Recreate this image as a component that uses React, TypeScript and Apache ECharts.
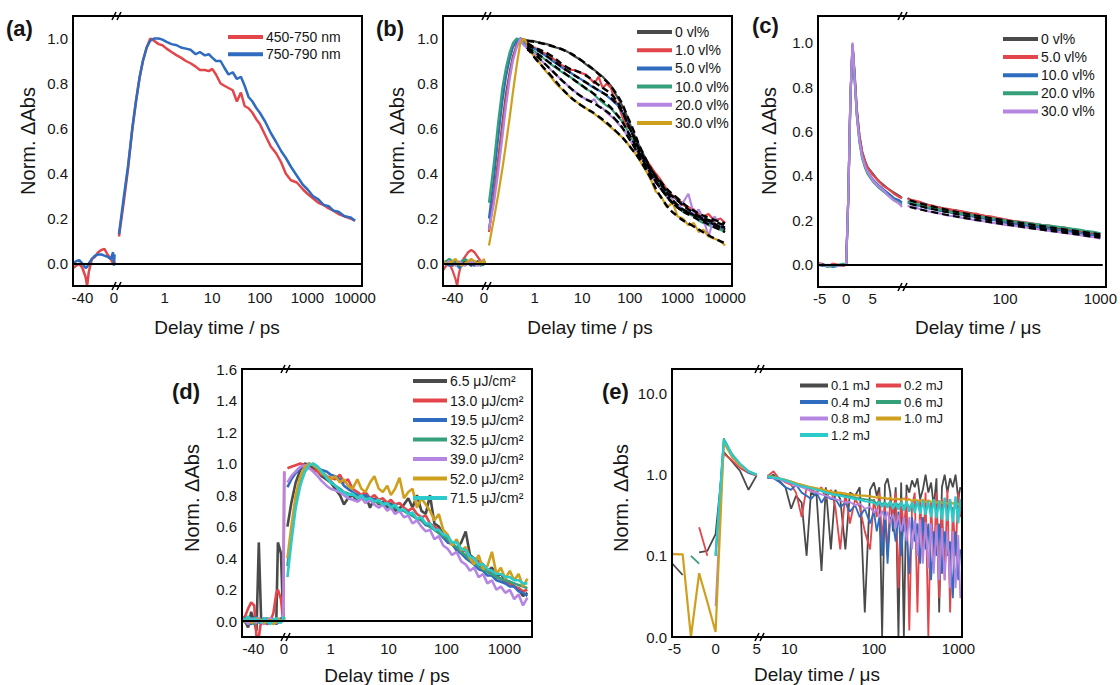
import React, { useEffect, useRef } from "react";
import * as echarts from "echarts";

const FONT = 'Arial, "Liberation Sans", Helvetica, sans-serif';
const INK = "#161616";
const GRAY = "#4a4a4a", RED = "#e2464b", BLUE = "#2f6bbf", GREEN = "#35a07a", PURPLE = "#b585e2", GOLD = "#cf9f1e", CYAN = "#2ccaca";

// ---------- tick labels ----------
const psLinTicks = [-40, 0];
const abLogTicks = [1, 10, 100, 1000, 10000];
const usLinTicks = [-5, 0, 5];
const cLogTicks = [100, 1000];
const dLogTicks = [1, 10, 100, 1000];
const eLogTicks = [10, 100, 1000];
const yTicks11 = [0, 0.2, 0.4, 0.6, 0.8, 1.0];
const yTicksD = [0, 0.2, 0.4, 0.6, 0.8, 1.0, 1.2, 1.4, 1.6];
const yTicksE = [0.01, 0.1, 1, 10];

// ---------- (a) ----------
const aNames = ["450-750 nm", "750-790 nm"];
const aColors = [RED, BLUE];
const tNegAB = [-52, -48, -44, -40, -36, -34, -32, -28, -24, -20, -16, -12, -8, -4, -1, 0, 1];
const tPosAB = [0.11, 0.14, 0.17, 0.21, 0.25, 0.3, 0.35, 0.42, 0.5, 0.6, 0.75, 0.9, 1.1, 1.4, 1.8, 2.2, 2.8, 3.5, 4.5, 5.5, 7, 8.5, 10, 12, 15, 18, 22, 27, 33, 40, 48, 58, 70, 85, 100, 130, 170, 220, 280, 350, 450, 600, 800, 1000, 1300, 1700, 2200, 2800, 3500, 4500, 6000, 8000, 10000];
const aRedNeg = [-0.02, -0.01, 0.0, -0.02, -0.06, -0.1, -0.04, 0.02, 0.03, 0.05, 0.06, 0.065, 0.04, 0.02, 0.0, 0.01, 0.0];
const aBlueNeg = [0.0, 0.01, 0.015, 0.0, -0.02, -0.015, 0.0, 0.02, 0.035, 0.04, 0.04, 0.035, 0.03, 0.02, 0.05, -0.01, 0.04];
const aRedPos = [0.12, 0.28, 0.42, 0.6, 0.72, 0.83, 0.9, 0.96, 1.0,
  0.99, 0.975, 0.97, 0.955, 0.94, 0.925, 0.915, 0.9, 0.89, 0.875,
  0.86, 0.86, 0.855, 0.865, 0.84, 0.8, 0.79, 0.78, 0.77, 0.72,
  0.76, 0.7, 0.69, 0.67, 0.64, 0.62, 0.57, 0.52, 0.49, 0.45,
  0.4, 0.37, 0.36, 0.33, 0.31, 0.29, 0.27, 0.26, 0.245, 0.235,
  0.22, 0.21, 0.2, 0.19];
const aBluePos = [0.13, 0.3, 0.43, 0.6, 0.72, 0.83, 0.9, 0.96, 0.99,
  1.0, 1.0, 0.995, 0.985, 0.975, 0.97, 0.96, 0.955, 0.95, 0.93,
  0.94, 0.925, 0.93, 0.915, 0.9, 0.9, 0.87, 0.84, 0.85, 0.82,
  0.83, 0.79, 0.74, 0.72, 0.69, 0.67, 0.63, 0.58, 0.54, 0.5,
  0.47, 0.43, 0.39, 0.35, 0.33, 0.3, 0.285, 0.26, 0.255, 0.235,
  0.23, 0.21, 0.205, 0.19];

// ---------- (b) ----------
const bNames = ["0 vl%", "1.0 vl%", "5.0 vl%", "10.0 vl%", "20.0 vl%", "30.0 vl%"];
const bColors = [GRAY, RED, BLUE, GREEN, PURPLE, GOLD];
const bGrayNeg = [0.0, 0.01, 0.0, -0.01, 0.0, 0.01, -0.01, 0.0, 0.01, 0.0, -0.01, 0.0, 0.01, 0.0, 0.0, 0.01, 0.0];
const bRedNeg = [-0.03, -0.01, 0.0, -0.03, -0.07, -0.1, -0.05, 0.01, 0.03, 0.05, 0.06, 0.05, 0.03, 0.01, 0.0, 0.02, 0.0];
const bBlueNeg = [0.01, 0.0, -0.01, 0.0, 0.01, 0.0, -0.02, -0.01, 0.0, 0.01, 0.0, -0.01, 0.0, 0.01, -0.01, 0.0, 0.01];
const bGreenNeg = [0.0, 0.01, 0.02, 0.01, 0.0, -0.01, 0.0, 0.01, 0.02, 0.01, 0.0, 0.01, 0.0, -0.01, 0.0, 0.01, 0.0];
const bPurpleNeg = [0.0, 0.0, 0.01, 0.0, -0.01, 0.0, 0.01, 0.0, -0.01, 0.0, 0.01, 0.0, -0.01, 0.0, 0.01, 0.0, 0.0];
const bGoldNeg = [0.01, 0.0, 0.0, 0.01, 0.02, 0.01, 0.0, -0.01, 0.0, 0.01, 0.02, 0.01, 0.0, 0.01, 0.0, 0.02, 0.0];
const bGrayPos = [0.15, 0.3, 0.45, 0.62, 0.75, 0.85, 0.92, 0.97, 1.0,
  0.995, 0.99, 0.99, 0.985, 0.98, 0.975, 0.97, 0.96, 0.955, 0.945,
  0.935, 0.92, 0.91, 0.9, 0.885, 0.87, 0.86, 0.845, 0.83, 0.81,
  0.79, 0.76, 0.73, 0.7, 0.66, 0.62, 0.56, 0.51, 0.46, 0.42,
  0.39, 0.36, 0.32, 0.3, 0.28, 0.27, 0.24, 0.24, 0.2, 0.21,
  0.18, 0.18, 0.15, 0.16];
const bRedPos = [0.14, 0.3, 0.44, 0.6, 0.73, 0.84, 0.91, 0.97, 1.0,
  0.99, 0.975, 0.965, 0.955, 0.94, 0.93, 0.92, 0.9, 0.885, 0.87,
  0.86, 0.86, 0.85, 0.845, 0.84, 0.82, 0.8, 0.83, 0.78, 0.8,
  0.78, 0.73, 0.7, 0.65, 0.61, 0.6, 0.55, 0.49, 0.46, 0.43,
  0.4, 0.37, 0.33, 0.3, 0.29, 0.26, 0.25, 0.24, 0.22, 0.21,
  0.22, 0.19, 0.2, 0.18];
const bBluePos = [0.2, 0.38, 0.55, 0.72, 0.83, 0.91, 0.96, 0.99, 1.0,
  0.98, 0.97, 0.96, 0.95, 0.935, 0.92, 0.905, 0.89, 0.875, 0.86,
  0.85, 0.835, 0.825, 0.815, 0.805, 0.79, 0.78, 0.77, 0.76, 0.745,
  0.73, 0.715, 0.7, 0.67, 0.64, 0.6, 0.55, 0.5, 0.45, 0.41,
  0.38, 0.35, 0.31, 0.28, 0.26, 0.24, 0.23, 0.22, 0.2, 0.19,
  0.18, 0.17, 0.16, 0.16];
const bGreenPos = [0.27, 0.45, 0.62, 0.78, 0.87, 0.94, 0.98, 1.0, 0.99,
  0.97, 0.96, 0.95, 0.935, 0.92, 0.9, 0.885, 0.87, 0.855, 0.84,
  0.83, 0.815, 0.8, 0.79, 0.775, 0.765, 0.75, 0.73, 0.715, 0.7,
  0.69, 0.67, 0.65, 0.63, 0.6, 0.57, 0.53, 0.48, 0.44, 0.4,
  0.37, 0.34, 0.3, 0.27, 0.25, 0.23, 0.22, 0.21, 0.19, 0.18,
  0.17, 0.16, 0.15, 0.14];
const bPurplePos = [0.15, 0.27, 0.4, 0.56, 0.7, 0.82, 0.9, 0.96, 1.0,
  0.97, 0.95, 0.94, 0.925, 0.9, 0.88, 0.86, 0.84, 0.82, 0.8,
  0.78, 0.765, 0.75, 0.74, 0.73, 0.72, 0.73, 0.7, 0.69, 0.67,
  0.655, 0.64, 0.62, 0.6, 0.575, 0.55, 0.51, 0.47, 0.43, 0.39,
  0.36, 0.33, 0.3, 0.28, 0.25, 0.27, 0.31, 0.22, 0.24, 0.2,
  0.12, 0.21, 0.17, 0.18];
const bGoldPos = [0.08, 0.2, 0.3, 0.42, 0.53, 0.65, 0.76, 0.88, 0.98,
  1.0, 0.96, 0.93, 0.91, 0.88, 0.85, 0.83, 0.8, 0.78, 0.76,
  0.74, 0.725, 0.71, 0.7, 0.69, 0.675, 0.665, 0.65, 0.635, 0.62,
  0.605, 0.59, 0.575, 0.56, 0.54, 0.52, 0.49, 0.45, 0.41, 0.37,
  0.32, 0.3, 0.25, 0.27, 0.21, 0.2, 0.17, 0.18, 0.14, 0.15,
  0.12, 0.11, 0.1, 0.08];
const tFitB = [0.7, 1, 2, 5, 10, 20, 50, 100, 200, 500, 1000, 2000, 5000, 10000];
const bFit0 = [0.99, 0.985, 0.97, 0.94, 0.9, 0.85, 0.76, 0.63, 0.48, 0.34, 0.28, 0.23, 0.185, 0.15];
const bFit1 = [0.98, 0.96, 0.93, 0.87, 0.845, 0.8, 0.73, 0.6, 0.47, 0.35, 0.29, 0.24, 0.2, 0.18];
const bFit2 = [0.97, 0.955, 0.915, 0.855, 0.815, 0.775, 0.715, 0.6, 0.46, 0.34, 0.26, 0.22, 0.18, 0.16];
const bFit3 = [0.96, 0.94, 0.895, 0.835, 0.79, 0.745, 0.67, 0.57, 0.45, 0.32, 0.25, 0.21, 0.17, 0.14];
const bFit4 = [0.95, 0.93, 0.87, 0.79, 0.74, 0.705, 0.64, 0.55, 0.44, 0.32, 0.25, 0.22, 0.19, 0.17];
const bFit5 = [0.96, 0.915, 0.845, 0.75, 0.7, 0.66, 0.59, 0.52, 0.43, 0.28, 0.21, 0.17, 0.12, 0.09];

// ---------- (c) ----------
const cNames = ["0 vl%", "5.0 vl%", "10.0 vl%", "20.0 vl%", "30.0 vl%"];
const cColors = [GRAY, RED, BLUE, GREEN, PURPLE];
const tNegC = [-5.3, -4.5, -3.5, -2.5, -1.5, -0.5, 0, 0.4, 0.8, 1.2, 1.6, 2, 2.5, 3, 3.5, 4, 5, 6, 7, 8, 9, 10, 10.5];
const cGrayNeg = [0.0, 0.005, -0.005, 0.0, -0.003, 0.0, 0.0, 0.3, 0.75, 0.99, 0.86, 0.7, 0.58, 0.51, 0.47, 0.44, 0.41, 0.38, 0.36, 0.34, 0.325, 0.31, 0.3];
const cRedNeg = [0.01, 0.0, -0.005, 0.005, 0.0, -0.005, 0.0, 0.3, 0.75, 0.99, 0.85, 0.7, 0.58, 0.51, 0.47, 0.44, 0.405, 0.38, 0.355, 0.34, 0.32, 0.305, 0.3];
const cBlueNeg = [0.0, -0.005, 0.0, -0.01, -0.005, 0.0, 0.0, 0.3, 0.75, 0.99, 0.84, 0.68, 0.56, 0.49, 0.45, 0.42, 0.385, 0.36, 0.34, 0.32, 0.3, 0.29, 0.28];
const cGreenNeg = [0.0, 0.0, -0.01, -0.005, 0.0, 0.005, 0.0, 0.3, 0.75, 0.99, 0.83, 0.67, 0.55, 0.48, 0.44, 0.41, 0.375, 0.35, 0.33, 0.31, 0.29, 0.28, 0.27];
const cPurpleNeg = [0.005, 0.0, -0.005, 0.0, -0.005, 0.0, 0.0, 0.3, 0.76, 1.0, 0.84, 0.68, 0.56, 0.49, 0.45, 0.42, 0.38, 0.355, 0.335, 0.31, 0.29, 0.275, 0.26];
const tPosC = [9.5, 11, 13, 15, 18, 21, 25, 30, 35, 42, 50, 60, 70, 85, 100, 120, 140, 170, 200, 240, 290, 350, 420, 500, 600, 700, 850, 1000];
const cGrayPos = [0.3, 0.285, 0.28, 0.272, 0.26, 0.258, 0.248, 0.246, 0.238, 0.234, 0.226, 0.222, 0.212, 0.209, 0.2, 0.197, 0.19, 0.186, 0.182, 0.175, 0.171, 0.166, 0.16, 0.156, 0.15, 0.146, 0.14, 0.135];
const cRedPos = [0.295, 0.29, 0.282, 0.27, 0.265, 0.255, 0.252, 0.244, 0.242, 0.232, 0.23, 0.22, 0.218, 0.21, 0.205, 0.198, 0.195, 0.19, 0.185, 0.18, 0.176, 0.17, 0.168, 0.16, 0.155, 0.15, 0.145, 0.14];
const cBluePos = [0.28, 0.27, 0.265, 0.255, 0.25, 0.242, 0.238, 0.23, 0.226, 0.22, 0.214, 0.208, 0.204, 0.198, 0.19, 0.186, 0.181, 0.176, 0.172, 0.166, 0.162, 0.157, 0.152, 0.148, 0.142, 0.138, 0.133, 0.128];
const cGreenPos = [0.285, 0.278, 0.268, 0.26, 0.254, 0.248, 0.24, 0.236, 0.23, 0.226, 0.22, 0.215, 0.21, 0.206, 0.2, 0.196, 0.192, 0.188, 0.184, 0.18, 0.176, 0.172, 0.168, 0.163, 0.158, 0.153, 0.148, 0.142];
const cPurplePos = [0.265, 0.26, 0.25, 0.242, 0.236, 0.23, 0.222, 0.218, 0.212, 0.206, 0.2, 0.196, 0.19, 0.186, 0.18, 0.176, 0.172, 0.167, 0.163, 0.158, 0.153, 0.148, 0.144, 0.139, 0.134, 0.129, 0.124, 0.118];
const tFitC = [10, 20, 50, 100, 200, 500, 1000];
const cFit0 = [0.29, 0.256, 0.222, 0.2, 0.18, 0.155, 0.137];
const cFit1 = [0.275, 0.245, 0.212, 0.19, 0.17, 0.146, 0.128];
const cFit2 = [0.26, 0.232, 0.202, 0.182, 0.163, 0.14, 0.122];

// ---------- (d) ----------
const dNames = ["6.5 μJ/cm²", "13.0 μJ/cm²", "19.5 μJ/cm²", "32.5 μJ/cm²", "39.0 μJ/cm²", "52.0 μJ/cm²", "71.5 μJ/cm²"];
const dColors = [GRAY, RED, BLUE, GREEN, PURPLE, GOLD, CYAN];
const tNegD = [-55, -51, -47, -43, -39, -36, -33, -30, -26, -22, -18, -14, -10, -8, -4, -1, 0.3];
const dGrayNeg = [0.03, 0.0, -0.04, 0.06, 0.0, -0.06, 0.5, 0.02, -0.02, 0.01, 0.0, -0.01, 0.02, 0.5, 0.43, 0.0, 0.02];
const dRedNeg = [0.0, 0.03, 0.08, 0.12, 0.1, -0.1, -0.1, 0.0, 0.01, -0.02, 0.0, 0.05, 0.18, 0.2, 0.14, 0.0, 0.95];
const dBlueNeg = [0.0, 0.02, 0.0, -0.02, 0.01, 0.03, -0.01, 0.0, 0.02, -0.01, 0.0, 0.01, -0.02, 0.0, 0.02, 0.0, 0.02];
const dGreenNeg = [0.02, -0.01, 0.03, 0.0, -0.02, 0.02, 0.0, -0.01, 0.01, 0.02, -0.01, 0.0, 0.01, -0.01, 0.0, 0.01, 0.03];
const dPurpleNeg = [0.0, 0.01, -0.02, 0.02, 0.0, -0.01, 0.02, 0.0, -0.02, 0.01, 0.02, 0.0, -0.01, 0.01, 0.0, 0.0, 0.95];
const dGoldNeg = [0.01, 0.0, 0.02, -0.01, 0.0, 0.02, 0.0, 0.01, -0.01, 0.0, 0.01, -0.02, 0.0, 0.02, 0.0, 0.01, 0.02];
const dCyanNeg = [0.02, 0.01, 0.03, 0.0, 0.02, 0.0, 0.01, -0.01, 0.02, 0.0, -0.02, 0.01, 0.02, 0.0, -0.01, 0.02, 0.03];
const tPosD = [0.18, 0.21, 0.25, 0.3, 0.36, 0.43, 0.5, 0.6, 0.7, 0.85, 1.0, 1.2, 1.45, 1.7, 2.0, 2.4, 2.9, 3.4, 4.0, 4.8, 5.7, 6.8, 8, 9.5, 11, 13, 15.5, 18.5, 22, 26, 31, 37, 44, 52, 62, 74, 88, 105, 125, 150, 180, 215, 255, 300, 360, 430, 510, 610, 730, 870, 1040, 1240, 1480, 1760, 2100, 2500];
const dGrayPos = [0.6, 0.75, 0.88, 0.96, 1.0, 0.99, 0.97, 0.95, 0.92, 0.9,
  0.88, 0.84, 0.8, 0.74, 0.78, 0.8, 0.76, 0.78, 0.8, 0.72,
  0.78, 0.74, 0.76, 0.72, 0.75, 0.7, 0.72, 0.74, 0.78, 0.72,
  0.8, 0.7, 0.68, 0.8, 0.62, 0.6, 0.55, 0.52, 0.5, 0.46,
  0.5, 0.57, 0.42, 0.4, 0.38, 0.36, 0.32, 0.34, 0.28, 0.3,
  0.26, 0.25, 0.22, 0.2, 0.16, 0.18];
const dRedPos = [0.97, 0.98, 0.99, 1.0, 0.99, 0.97, 0.96, 0.95, 0.93, 0.92,
  0.91, 0.9, 0.93, 0.88, 0.9, 0.84, 0.82, 0.8, 0.82, 0.78,
  0.8, 0.77, 0.78, 0.75, 0.77, 0.74, 0.75, 0.72, 0.7, 0.72,
  0.68, 0.66, 0.67, 0.62, 0.6, 0.58, 0.55, 0.5, 0.5, 0.45,
  0.44, 0.45, 0.4, 0.37, 0.38, 0.33, 0.33, 0.3, 0.28, 0.27,
  0.25, 0.24, 0.22, 0.21, 0.19, 0.2];
const dBluePos = [0.85, 0.9, 0.94, 0.97, 0.99, 1.0, 0.99, 0.97, 0.96, 0.95,
  0.93, 0.92, 0.9, 0.86, 0.84, 0.82, 0.8, 0.79, 0.8, 0.78,
  0.77, 0.76, 0.75, 0.74, 0.74, 0.72, 0.71, 0.7, 0.69, 0.67,
  0.65, 0.64, 0.61, 0.6, 0.58, 0.56, 0.53, 0.5, 0.49, 0.45,
  0.43, 0.4, 0.38, 0.36, 0.33, 0.32, 0.29, 0.29, 0.26, 0.25,
  0.24, 0.22, 0.22, 0.19, 0.18, 0.16];
const dGreenPos = [0.35, 0.55, 0.75, 0.88, 0.95, 0.99, 1.0, 0.98, 0.95, 0.92,
  0.89, 0.86, 0.84, 0.82, 0.81, 0.8, 0.79, 0.78, 0.78, 0.77,
  0.76, 0.75, 0.75, 0.74, 0.73, 0.72, 0.71, 0.7, 0.68, 0.67,
  0.65, 0.64, 0.62, 0.6, 0.58, 0.56, 0.54, 0.52, 0.49, 0.47,
  0.44, 0.42, 0.39, 0.37, 0.35, 0.33, 0.31, 0.3, 0.28, 0.27,
  0.26, 0.25, 0.24, 0.23, 0.22, 0.21];
const dPurplePos = [0.88, 0.92, 0.95, 0.98, 0.99, 0.97, 0.95, 0.92, 0.89, 0.86,
  0.84, 0.83, 0.82, 0.8, 0.78, 0.77, 0.76, 0.78, 0.75, 0.77,
  0.74, 0.72, 0.74, 0.7, 0.72, 0.68, 0.7, 0.66, 0.67, 0.62,
  0.64, 0.6, 0.57, 0.58, 0.52, 0.54, 0.48, 0.46, 0.42, 0.44,
  0.38, 0.36, 0.32, 0.34, 0.28, 0.3, 0.24, 0.26, 0.2, 0.22,
  0.18, 0.2, 0.14, 0.17, 0.1, 0.15];
const dGoldPos = [0.4, 0.6, 0.8, 0.92, 0.98, 1.0, 0.99, 0.97, 0.94, 0.92,
  0.9, 0.92, 0.88, 0.9, 0.86, 0.84, 0.9, 0.84, 0.82, 0.88,
  0.92, 0.84, 0.82, 0.86, 0.8, 0.84, 0.91, 0.78, 0.82, 0.84,
  0.72, 0.78, 0.74, 0.7, 0.64, 0.68, 0.58, 0.55, 0.48, 0.52,
  0.45, 0.47, 0.4, 0.36, 0.42, 0.33, 0.35, 0.44, 0.3, 0.34,
  0.27, 0.32, 0.26, 0.3, 0.22, 0.27];
const dCyanPos = [0.28, 0.5, 0.72, 0.86, 0.95, 0.99, 1.0, 0.98, 0.95, 0.91,
  0.88, 0.86, 0.83, 0.82, 0.8, 0.81, 0.78, 0.8, 0.77, 0.78,
  0.76, 0.77, 0.74, 0.75, 0.72, 0.74, 0.7, 0.71, 0.68, 0.69,
  0.65, 0.66, 0.62, 0.62, 0.58, 0.58, 0.55, 0.54, 0.5, 0.5,
  0.46, 0.45, 0.41, 0.4, 0.36, 0.36, 0.33, 0.32, 0.3, 0.3,
  0.28, 0.28, 0.26, 0.26, 0.24, 0.24];

// ---------- (e) ----------
const eNamesCol1 = ["0.1 mJ", "0.4 mJ", "0.8 mJ", "1.2 mJ"];
const eNamesCol2 = ["0.2 mJ", "0.6 mJ", "1.0 mJ"];
const eNames = ["0.1 mJ", "0.2 mJ", "0.4 mJ", "0.6 mJ", "0.8 mJ", "1.0 mJ", "1.2 mJ"];
const eColors = [GRAY, RED, BLUE, GREEN, PURPLE, GOLD, CYAN];
const tNegE = [-5.3, -4, -3, -2, -1, 0, 1, 2, 3, 4, 5];
const eGrayNeg = [0.081, 0.058, null, 0.11, 0.115, 0.185, 1.9, 1.45, 1.1, 0.65, 0.98];
const eRedNeg = [null, null, null, 0.225, 0.1, null, 1.8, 1.5, 1.2, 1.05, 0.97];
const eBlueNeg = [null, null, null, null, null, 0.1, 2.6, 1.7, 1.3, 1.05, 0.98];
const eGreenNeg = [null, null, 0.1, 0.08, null, 0.107, 2.8, 1.8, 1.35, 1.1, 1.0];
const ePurpleNeg = [null, null, null, null, null, 0.024, 2.5, 1.7, 1.3, 1.08, 1.0];
const eGoldNeg = [0.105, 0.104, 0.01, 0.061, 0.027, 0.0115, 2.5, 1.65, 1.3, 1.1, 0.98];
const eCyanNeg = [null, null, null, null, null, 0.1, 2.7, 1.75, 1.35, 1.1, 1.0];
const tPosE = [5.5, 6.5, 7.5, 9, 10.5, 12, 14, 16, 18, 21, 24, 27, 31, 35, 40, 46, 52, 60, 68, 78, 90,
  100, 108, 116, 125, 135, 145, 156, 168, 181, 195, 210, 226, 243, 262, 282, 304, 327, 352, 379, 408, 440, 474, 510, 549, 591, 637, 686, 739, 796, 857, 923, 994, 1050];
const eGrayPos = [0.9, 1.0, 0.85, 0.7, 0.38, 0.55, 0.45, 0.1, 0.6, 0.55, 0.065, 0.7, 0.12, 0.65, 0.5, 0.12, 0.6, 0.55, 0.7, 0.02, 0.65,
  0.8, 0.55, 0.7, 0.01, 0.75, 0.9, 0.6, 0.2, 0.7, 0.01, 0.8, 0.01, 0.75, 0.6, 0.85, 0.7, 0.9, 0.5, 0.65, 1.0, 0.6, 0.8, 0.4, 0.9, 0.02, 0.7, 1.0, 0.6, 0.9, 0.7, 1.0, 0.5, 0.7];
const eRedPos = [0.95, 1.1, 0.9, 0.8, 0.75, 0.6, 0.3, 0.7, 0.65, 0.6, 0.7, 0.5, 0.65, 0.4, 0.12, 0.6, 0.25, 0.5, 0.4, 0.2, 0.12,
  0.5, 0.3, 0.6, 0.15, 0.45, 0.1, 0.5, 0.3, 0.6, 0.04, 0.5, 0.2, 0.55, 0.012, 0.4, 0.6, 0.02, 0.5, 0.1, 0.6, 0.01, 0.45, 0.08, 0.6, 0.03, 0.5, 0.05, 0.65, 0.02, 0.4, 0.1, 0.6, 0.3];
const eBluePos = [0.92, 0.9, 0.82, 0.7, 0.65, 0.75, 0.6, 0.55, 0.5, 0.6, 0.45, 0.55, 0.5, 0.5, 0.4, 0.45, 0.35, 0.42, 0.3, 0.38, 0.25,
  0.35, 0.2, 0.3, 0.1, 0.35, 0.08, 0.3, 0.25, 0.15, 0.35, 0.1, 0.3, 0.2, 0.06, 0.3, 0.15, 0.25, 0.08, 0.3, 0.12, 0.25, 0.05, 0.2, 0.1, 0.25, 0.06, 0.2, 0.1, 0.15, 0.03, 0.2, 0.05, 0.12];
const eGreenPos = [0.98, 0.95, 0.9, 0.86, 0.82, 0.78, 0.75, 0.72, 0.69, 0.67, 0.65, 0.62, 0.6, 0.58, 0.57, 0.55, 0.54, 0.52, 0.51, 0.5, 0.49,
  0.48, 0.44, 0.47, 0.43, 0.46, 0.42, 0.47, 0.41, 0.45, 0.42, 0.46, 0.4, 0.45, 0.39, 0.44, 0.4, 0.45, 0.38, 0.44, 0.37, 0.43, 0.38, 0.44, 0.36, 0.42, 0.37, 0.43, 0.35, 0.42, 0.36, 0.41, 0.34, 0.4];
const ePurplePos = [0.95, 0.9, 0.88, 0.82, 0.78, 0.72, 0.7, 0.66, 0.62, 0.6, 0.57, 0.55, 0.52, 0.5, 0.48, 0.45, 0.46, 0.42, 0.44, 0.38, 0.4,
  0.34, 0.38, 0.3, 0.36, 0.28, 0.35, 0.25, 0.33, 0.22, 0.32, 0.2, 0.3, 0.15, 0.3, 0.12, 0.28, 0.1, 0.28, 0.08, 0.26, 0.07, 0.25, 0.06, 0.24, 0.05, 0.22, 0.05, 0.2, 0.04, 0.2, 0.04, 0.18, 0.03];
const eGoldPos = [0.97, 0.93, 0.9, 0.86, 0.82, 0.78, 0.75, 0.72, 0.7, 0.68, 0.66, 0.64, 0.62, 0.6, 0.6, 0.58, 0.57, 0.56, 0.55, 0.55, 0.54,
  0.53, 0.52, 0.54, 0.51, 0.52, 0.5, 0.52, 0.49, 0.51, 0.5, 0.49, 0.51, 0.48, 0.5, 0.47, 0.49, 0.48, 0.47, 0.49, 0.46, 0.48, 0.46, 0.47, 0.45, 0.47, 0.45, 0.46, 0.44, 0.46, 0.44, 0.45, 0.43, 0.44];
const eCyanPos = [0.95, 0.92, 0.9, 0.85, 0.8, 0.76, 0.72, 0.7, 0.68, 0.65, 0.63, 0.6, 0.58, 0.56, 0.55, 0.53, 0.52, 0.5, 0.49, 0.47, 0.46,
  0.45, 0.42, 0.46, 0.4, 0.45, 0.39, 0.46, 0.38, 0.45, 0.37, 0.46, 0.36, 0.47, 0.35, 0.46, 0.34, 0.47, 0.33, 0.48, 0.32, 0.47, 0.3, 0.5, 0.29, 0.48, 0.28, 0.52, 0.27, 0.5, 0.26, 0.54, 0.25, 0.5];

// ---------- layout ----------
type Panel = {
  L: number; T: number; R: number; B: number; brk: number;
  lin: number[]; linTicks: number[]; log: number[]; logTicks: number[];
  y: number[]; yTicks: number[]; yLog: boolean; zero: boolean;
  label: string; labelXY: number[]; xTitle: string; xTitleXY: number[]; yTitleXY: number[];
};
const PANELS: Panel[] = [
  { L: 73, T: 16, R: 362, B: 286, brk: 117, lin: [-52, 4], linTicks: psLinTicks, log: [0.1, 14000], logTicks: abLogTicks, y: [-0.1, 1.1], yTicks: yTicks11, yLog: false, zero: true, label: "(a)", labelXY: [6, 17], xTitle: "Delay time / ps", xTitleXY: [217, 327], yTitleXY: [28, 141] },
  { L: 443, T: 16, R: 732, B: 286, brk: 487, lin: [-52, 4], linTicks: psLinTicks, log: [0.1, 14000], logTicks: abLogTicks, y: [-0.1, 1.1], yTicks: yTicks11, yLog: false, zero: true, label: "(b)", labelXY: [376, 17], xTitle: "Delay time / ps", xTitleXY: [590, 327], yTitleXY: [397, 141] },
  { L: 818, T: 16, R: 1106, B: 287, brk: 903, lin: [-5.3, 10.7], linTicks: usLinTicks, log: [8.5, 1060], logTicks: cLogTicks, y: [-0.1, 1.12], yTicks: yTicks11, yLog: false, zero: true, label: "(c)", labelXY: [752, 14], xTitle: "Delay time / μs", xTitleXY: [978, 327], yTitleXY: [769, 141] },
  { L: 242, T: 369, R: 532, B: 637, brk: 286, lin: [-55, 2.6], linTicks: psLinTicks, log: [0.17, 3000], logTicks: dLogTicks, y: [-0.1, 1.6], yTicks: yTicksD, yLog: false, zero: true, label: "(d)", labelXY: [172, 380], xTitle: "Delay time / ps", xTitleXY: [387, 675], yTitleXY: [192, 498] },
  { L: 672, T: 369, R: 962, B: 637, brk: 760, lin: [-5.3, 5.4], linTicks: usLinTicks, log: [4.5, 1100], logTicks: eLogTicks, y: [0.01, 20], yTicks: yTicksE, yLog: true, zero: false, label: "(e)", labelXY: [602, 380], xTitle: "Delay time / μs", xTitleXY: [817, 674], yTitleXY: [621, 498] },
];

const zip = (t: number[], v: (number | null)[]) => t.map((x, i) => [x, v[i] == null ? "-" : v[i]]);
const isTick = (ticks: number[], v: number) => ticks.some((t) => Math.abs(v - t) <= Math.abs(t) * 1e-6 + 1e-9);

function buildOption() {
  const grid: any[] = [], xAxis: any[] = [], yAxis: any[] = [], series: any[] = [], graphic: any[] = [];
  const lbl = { fontFamily: FONT, fontSize: 15, color: INK };
  PANELS.forEach((p, pi) => {
    const h = p.B - p.T;
    grid.push({ left: p.L, top: p.T, width: p.brk - p.L, height: h });
    grid.push({ left: p.brk, top: p.T, width: p.R - p.brk, height: h });
    const hidden = { axisLine: { show: false }, axisTick: { show: false }, splitLine: { show: false } };
    xAxis.push({ gridIndex: 2 * pi, type: "value", min: p.lin[0], max: p.lin[1], ...hidden,
      axisLabel: { ...lbl, margin: 4, customValues: p.linTicks, formatter: (v: number) => String(v) } });
    xAxis.push({ gridIndex: 2 * pi + 1, type: "log", logBase: 10, min: p.log[0], max: p.log[1], ...hidden,
      axisLabel: { ...lbl, margin: 4, formatter: (v: number) => (isTick(p.logTicks, v) ? String(Math.round(v)) : "") } });
    const yLabel = p.yLog
      ? { ...lbl, margin: 5, formatter: (v: number) => (isTick(p.yTicks, v) ? v.toFixed(1) : "") }
      : { ...lbl, margin: 5, customValues: p.yTicks, formatter: (v: number) => v.toFixed(1) };
    yAxis.push({ gridIndex: 2 * pi, type: p.yLog ? "log" : "value", min: p.y[0], max: p.y[1], ...hidden, axisLabel: yLabel });
    yAxis.push({ gridIndex: 2 * pi + 1, type: p.yLog ? "log" : "value", min: p.y[0], max: p.y[1], ...hidden, axisLabel: { show: false } });
    graphic.push({ type: "rect", silent: true, z: 100, shape: { x: p.L, y: p.T, width: p.R - p.L, height: p.B - p.T }, style: { fill: "transparent", stroke: "#000", lineWidth: 2 } });
    [p.T, p.B].forEach((yy) => {
      graphic.push({ type: "line", silent: true, z: 101, shape: { x1: p.brk - 5, y1: yy + 4, x2: p.brk - 1, y2: yy - 4 }, style: { stroke: "#000", lineWidth: 1.6 } });
      graphic.push({ type: "line", silent: true, z: 101, shape: { x1: p.brk, y1: yy + 4, x2: p.brk + 4, y2: yy - 4 }, style: { stroke: "#000", lineWidth: 1.6 } });
    });
    graphic.push({ type: "text", silent: true, x: p.labelXY[0], y: p.labelXY[1], style: { text: p.label, fontFamily: FONT, fontSize: 22, fontWeight: "bold", fill: INK } });
    graphic.push({ type: "text", silent: true, x: p.xTitleXY[0], y: p.xTitleXY[1], style: { text: p.xTitle, fontFamily: FONT, fontSize: 19, fill: INK, align: "center", verticalAlign: "middle" } });
    graphic.push({ type: "text", silent: true, x: p.yTitleXY[0], y: p.yTitleXY[1], rotation: Math.PI / 2, style: { text: "Norm. ΔAbs", fontFamily: FONT, fontSize: 20, fill: INK, align: "center", verticalAlign: "middle" } });
  });

  const zeroLine = { silent: true, symbol: ["none", "none"], label: { show: false }, lineStyle: { color: "#000", width: 2, type: "solid" }, data: [{ yAxis: 0 }], animation: false };
  const line = (name: string, color: string, width: number, ai: number, data: any[], extra: any = {}) => ({
    type: "line", name, xAxisIndex: ai, yAxisIndex: ai, data, showSymbol: false, symbol: "none", silent: true,
    emphasis: { disabled: true }, lineStyle: { color, width }, itemStyle: { color }, animation: false, ...extra,
  });
  const curve = (pi: number, name: string, color: string, width: number, tN: number[], vN: any[], tP: number[], vP: any[], first: boolean) => {
    const z = PANELS[pi].zero && first ? { markLine: zeroLine } : {};
    series.push(line(name, color, width, 2 * pi, zip(tN, vN), z));
    series.push(line(name, color, width, 2 * pi + 1, zip(tP, vP), z));
  };
  const fit = (pi: number, t: number[], v: number[], width: number) =>
    series.push(line("fit", "#000", width, 2 * pi + 1, zip(t, v), { smooth: true, lineStyle: { color: "#000", width, type: [7, 4] }, z: 5 }));

  curve(0, aNames[0], aColors[0], 2.5, tNegAB, aRedNeg, tPosAB, aRedPos, true);
  curve(0, aNames[1], aColors[1], 2.5, tNegAB, aBlueNeg, tPosAB, aBluePos, false);
  const bNeg = [bGrayNeg, bRedNeg, bBlueNeg, bGreenNeg, bPurpleNeg, bGoldNeg];
  const bPos = [bGrayPos, bRedPos, bBluePos, bGreenPos, bPurplePos, bGoldPos];
  bNames.forEach((n, i) => curve(1, n, bColors[i], 2.2, tNegAB, bNeg[i], tPosAB, bPos[i], i === 0));
  [bFit0, bFit1, bFit2, bFit3, bFit4, bFit5].forEach((f) => fit(1, tFitB, f, 2.4));
  const cNeg = [cGrayNeg, cRedNeg, cBlueNeg, cGreenNeg, cPurpleNeg];
  const cPos = [cGrayPos, cRedPos, cBluePos, cGreenPos, cPurplePos];
  cNames.forEach((n, i) => curve(2, n, cColors[i], 2.2, tNegC, cNeg[i], tPosC, cPos[i], i === 0));
  [cFit0, cFit1, cFit2].forEach((f) => fit(2, tFitC, f, 2.2));
  const dNeg = [dGrayNeg, dRedNeg, dBlueNeg, dGreenNeg, dPurpleNeg, dGoldNeg, dCyanNeg];
  const dPos = [dGrayPos, dRedPos, dBluePos, dGreenPos, dPurplePos, dGoldPos, dCyanPos];
  dNames.forEach((n, i) => curve(3, n, dColors[i], 2.6, tNegD, dNeg[i], tPosD, dPos[i], i === 0));
  const eNeg = [eGrayNeg, eRedNeg, eBlueNeg, eGreenNeg, ePurpleNeg, eGoldNeg, eCyanNeg];
  const ePos = [eGrayPos, eRedPos, eBluePos, eGreenPos, ePurplePos, eGoldPos, eCyanPos];
  eNames.forEach((n, i) => curve(4, n, eColors[i], i >= 5 ? 2.2 : 1.8, tNegE, eNeg[i], tPosE, ePos[i], false));

  const leg = (left: number, top: number, names: string[], colors: string[], fontSize: number, gap: number, w: number) => ({
    left, top, padding: 0, orient: "vertical", itemGap: gap, itemWidth: w, itemHeight: 4, icon: "rect", selectedMode: false,
    textStyle: { fontFamily: FONT, fontSize, color: INK, padding: [0, 0, 0, -2] },
    data: names.map((n, i) => ({ name: n, itemStyle: { color: colors[i] } })),
  });
  const colorOfE = (n: string) => eColors[eNames.indexOf(n)];
  const legend = [
    leg(228, 30, aNames, aColors, 14, 3.2, 35),
    leg(637, 25, bNames, bColors, 14, 4.2, 35),
    leg(1003, 32, cNames, cColors, 14, 4.1, 35),
    leg(413, 374, dNames, dColors, 14, 5.5, 34),
    leg(800, 379, eNamesCol1, eNamesCol1.map(colorOfE), 13, 3.5, 28),
    leg(876, 379, eNamesCol2, eNamesCol2.map(colorOfE), 13, 3.5, 25),
  ];

  return { animation: false, backgroundColor: "#ffffff", textStyle: { fontFamily: FONT }, grid, xAxis, yAxis, series, legend, graphic };
}

export default function App() {
  const ref = useRef<HTMLDivElement>(null);
  useEffect(() => {
    document.body.style.margin = "0";
    const chart = echarts.init(ref.current!, undefined, { renderer: "svg" });
    chart.setOption(buildOption() as any);
    return () => chart.dispose();
  }, []);
  return <div ref={ref} style={{ width: 1120, height: 685, background: "#fff" }} />;
}
